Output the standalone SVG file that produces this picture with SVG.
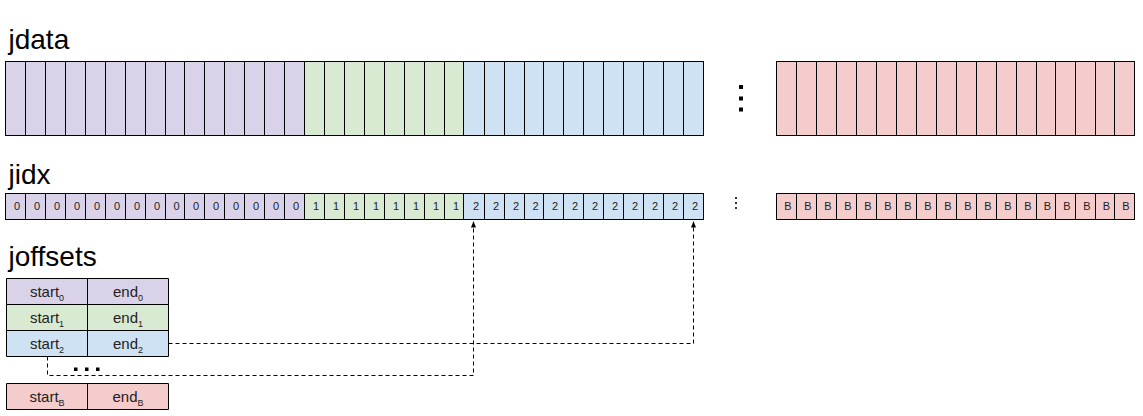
<svg xmlns="http://www.w3.org/2000/svg" width="1143" height="416" viewBox="0 0 1143 416">
<style>
.lbl{font-family:"Liberation Sans",Arial,sans-serif;font-size:28px;fill:#000}
.num{font-family:"Liberation Sans",Arial,sans-serif;font-size:11px;fill:#222;text-anchor:middle}
.cell{font-family:"Liberation Sans",Arial,sans-serif;font-size:15px;fill:#222;text-anchor:middle}
.sub{font-size:9px}
.pu{fill:#d9d2e9}.gr{fill:#d9ead3}.bl{fill:#cfe2f3}.pk{fill:#f4cccc}
.ln{fill:none;stroke:#000;stroke-width:1}
.dash{fill:none;stroke:#000;stroke-width:1;stroke-dasharray:4 3}
</style>
<defs>
<marker id="arr" markerUnits="userSpaceOnUse" markerWidth="8" markerHeight="8" refX="3" refY="1" orient="auto-start-reverse" viewBox="0 0 6 8">
<path d="M0,1 L3,7 L6,1 Z" fill="#000" transform="rotate(0)"/>
</marker>
<marker id="ah" markerUnits="userSpaceOnUse" markerWidth="6" markerHeight="7" refX="3" refY="0" viewBox="0 0 6 7" orient="0">
<path d="M0,6 L3,0 L6,6 Z" fill="#000"/>
</marker>
</defs>

<text class="lbl" x="8.5" y="49">jdata</text>
<text class="lbl" x="8.5" y="184">jidx</text>
<text class="lbl" x="8.5" y="266">joffsets</text>

<g id="jdata">
<rect class="pu" x="5.5" y="61.5" width="299" height="74"/>
<rect class="gr" x="304.5" y="61.5" width="159" height="74"/>
<rect class="bl" x="463.5" y="61.5" width="240" height="74"/>
<rect class="ln" x="5.5" y="61.5" width="698" height="74"/>
<path class="ln" d="M25.5 61.5V135.5M45.5 61.5V135.5M65.5 61.5V135.5M85.5 61.5V135.5M105.5 61.5V135.5M125.5 61.5V135.5M145.5 61.5V135.5M165.5 61.5V135.5M184.5 61.5V135.5M204.5 61.5V135.5M224.5 61.5V135.5M244.5 61.5V135.5M264.5 61.5V135.5M284.5 61.5V135.5M304.5 61.5V135.5M324.5 61.5V135.5M344.5 61.5V135.5M364.5 61.5V135.5M384.5 61.5V135.5M404.5 61.5V135.5M424.5 61.5V135.5M444.5 61.5V135.5M463.5 61.5V135.5M484.5 61.5V135.5M504.5 61.5V135.5M524.5 61.5V135.5M543.5 61.5V135.5M563.5 61.5V135.5M583.5 61.5V135.5M603.5 61.5V135.5M623.5 61.5V135.5M643.5 61.5V135.5M663.5 61.5V135.5M683.5 61.5V135.5"/>
</g>

<g id="jdata-dots" fill="#000">
<rect x="739" y="85" width="4" height="4"/>
<rect x="739" y="96.5" width="4" height="4"/>
<rect x="739" y="107.5" width="4" height="4"/>
</g>

<g id="jdata-B">
<rect class="pk" x="776.5" y="61.5" width="358" height="74"/>
<rect class="ln" x="776.5" y="61.5" width="358" height="74"/>
<path class="ln" d="M796.5 61.5V135.5M816.5 61.5V135.5M836.5 61.5V135.5M856.5 61.5V135.5M876.5 61.5V135.5M896.5 61.5V135.5M916.5 61.5V135.5M936.5 61.5V135.5M956.5 61.5V135.5M976.5 61.5V135.5M996.5 61.5V135.5M1016.5 61.5V135.5M1036.5 61.5V135.5M1055.5 61.5V135.5M1075.5 61.5V135.5M1095.5 61.5V135.5M1114.5 61.5V135.5"/>
</g>

<g id="jidx">
<rect class="pu" x="5.5" y="193.5" width="299" height="26"/>
<rect class="gr" x="304.5" y="193.5" width="159" height="26"/>
<rect class="bl" x="463.5" y="193.5" width="240" height="26"/>
<rect class="ln" x="5.5" y="193.5" width="698" height="26"/>
<path class="ln" d="M25.5 193.5V219.5M45.5 193.5V219.5M65.5 193.5V219.5M85.5 193.5V219.5M105.5 193.5V219.5M125.5 193.5V219.5M145.5 193.5V219.5M165.5 193.5V219.5M184.5 193.5V219.5M204.5 193.5V219.5M224.5 193.5V219.5M244.5 193.5V219.5M264.5 193.5V219.5M284.5 193.5V219.5M304.5 193.5V219.5M324.5 193.5V219.5M344.5 193.5V219.5M364.5 193.5V219.5M384.5 193.5V219.5M404.5 193.5V219.5M424.5 193.5V219.5M444.5 193.5V219.5M463.5 193.5V219.5M484.5 193.5V219.5M504.5 193.5V219.5M524.5 193.5V219.5M543.5 193.5V219.5M563.5 193.5V219.5M583.5 193.5V219.5M603.5 193.5V219.5M623.5 193.5V219.5M643.5 193.5V219.5M663.5 193.5V219.5M683.5 193.5V219.5"/>
<g class="num">
<text x="17" y="210">0</text><text x="37" y="210">0</text><text x="57" y="210">0</text><text x="77" y="210">0</text><text x="97" y="210">0</text><text x="117" y="210">0</text><text x="137" y="210">0</text><text x="157" y="210">0</text><text x="176.5" y="210">0</text><text x="196" y="210">0</text><text x="216" y="210">0</text><text x="236" y="210">0</text><text x="256" y="210">0</text><text x="276" y="210">0</text><text x="296" y="210">0</text>
<text x="316" y="210">1</text><text x="336" y="210">1</text><text x="356" y="210">1</text><text x="376" y="210">1</text><text x="396" y="210">1</text><text x="416" y="210">1</text><text x="436" y="210">1</text><text x="456" y="210">1</text>
<text x="476" y="210">2</text><text x="496" y="210">2</text><text x="516" y="210">2</text><text x="535.5" y="210">2</text><text x="555" y="210">2</text><text x="575" y="210">2</text><text x="595" y="210">2</text><text x="615" y="210">2</text><text x="635" y="210">2</text><text x="655" y="210">2</text><text x="675" y="210">2</text><text x="695" y="210">2</text>
</g>
</g>

<g id="jidx-dots" fill="#333">
<rect x="735" y="197" width="2" height="2"/>
<rect x="735" y="202" width="2" height="2"/>
<rect x="735" y="207" width="2" height="2"/>
</g>

<g id="jidx-B">
<rect class="pk" x="776.5" y="193.5" width="358" height="26"/>
<rect class="ln" x="776.5" y="193.5" width="358" height="26"/>
<path class="ln" d="M796.5 193.5V219.5M816.5 193.5V219.5M836.5 193.5V219.5M856.5 193.5V219.5M876.5 193.5V219.5M896.5 193.5V219.5M916.5 193.5V219.5M936.5 193.5V219.5M956.5 193.5V219.5M976.5 193.5V219.5M996.5 193.5V219.5M1016.5 193.5V219.5M1036.5 193.5V219.5M1055.5 193.5V219.5M1075.5 193.5V219.5M1095.5 193.5V219.5M1114.5 193.5V219.5"/>
<g class="num">
<text x="788" y="210">B</text><text x="808" y="210">B</text><text x="828" y="210">B</text><text x="848" y="210">B</text><text x="868" y="210">B</text><text x="888" y="210">B</text><text x="908" y="210">B</text><text x="928" y="210">B</text><text x="948" y="210">B</text><text x="968" y="210">B</text><text x="988" y="210">B</text><text x="1008" y="210">B</text><text x="1028" y="210">B</text><text x="1047.5" y="210">B</text><text x="1067" y="210">B</text><text x="1087" y="210">B</text><text x="1106.5" y="210">B</text><text x="1126" y="210">B</text>
</g>
</g>

<g id="joffsets-0">
<rect class="pu" x="6.5" y="278.5" width="162" height="26"/>
<path class="ln" d="M6.5 278.5H168.5V304.5H6.5Z M87.5 278.5V304.5"/>
<text class="cell" x="47" y="297">start<tspan class="sub" dy="4">0</tspan></text>
<text class="cell" x="128" y="297">end<tspan class="sub" dy="4">0</tspan></text>
</g>
<g id="joffsets-1">
<rect class="gr" x="6.5" y="304.5" width="162" height="26"/>
<path class="ln" d="M6.5 304.5H168.5V330.5H6.5Z M87.5 304.5V330.5"/>
<text class="cell" x="47" y="323">start<tspan class="sub" dy="4">1</tspan></text>
<text class="cell" x="128" y="323">end<tspan class="sub" dy="4">1</tspan></text>
</g>
<g id="joffsets-2">
<rect class="bl" x="6.5" y="330.5" width="162" height="26"/>
<path class="ln" d="M6.5 330.5H168.5V356.5H6.5Z M87.5 330.5V356.5"/>
<text class="cell" x="47" y="349">start<tspan class="sub" dy="4">2</tspan></text>
<text class="cell" x="128" y="349">end<tspan class="sub" dy="4">2</tspan></text>
</g>
<g id="joffsets-dots" fill="#000">
<rect x="74" y="367.5" width="3.5" height="3.5"/>
<rect x="85" y="367.5" width="3.5" height="3.5"/>
<rect x="96" y="367.5" width="3.5" height="3.5"/>
</g>
<g id="joffsets-B">
<rect class="pk" x="6.5" y="383.5" width="162" height="26"/>
<path class="ln" d="M6.5 383.5H168.5V409.5H6.5Z M87.5 383.5V409.5"/>
<text class="cell" x="47" y="402">start<tspan class="sub" dy="4">B</tspan></text>
<text class="cell" x="128" y="402">end<tspan class="sub" dy="4">B</tspan></text>
</g>

<g id="connectors">
<path class="dash" d="M47.5 356.5V375.5H473.5V227"/>
<path class="dash" d="M168.5 343.5H693.5V227"/>
<path d="M471 227.5L473.5 221L476 227.5Z" fill="#000"/>
<path d="M691 227.5L693.5 221L696 227.5Z" fill="#000"/>
</g>
</svg>
